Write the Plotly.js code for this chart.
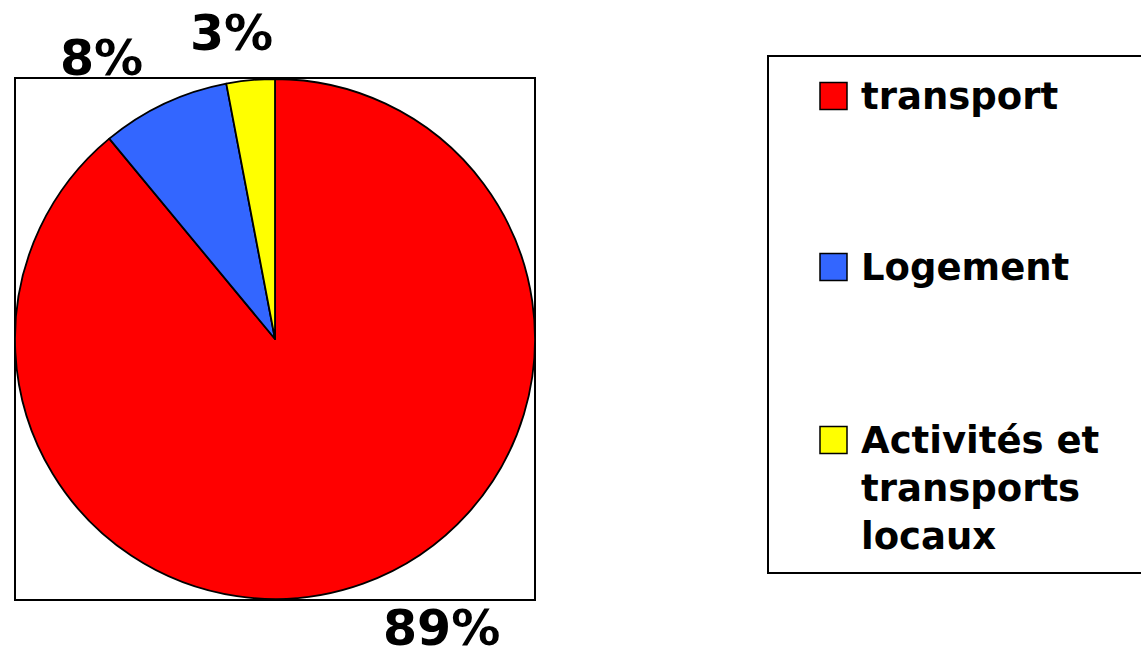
<!DOCTYPE html>
<html>
<head>
<meta charset="utf-8">
<script src="https://cdn.plot.ly/plotly-3.0.1.min.js"></script>
<style>html,body{margin:0;padding:0;background:#fff;}#chart{width:1141px;height:657px;}</style>
</head>
<body>
<div id="chart"></div>
<script>
// Data
var categories = ['transport', 'Logement', 'Activités et<br>transports<br>locaux'];
var values = [89, 8, 3];
var colors = ['#FF0000', '#3366FF', '#FFFF00'];

var W = 1141, H = 657;
function px(x) { return x / W; }
function py(y) { return 1 - y / H; }

var FONT = 'DejaVu Sans, Verdana, sans-serif';

var pie = {
  type: 'pie',
  labels: categories,
  values: values,
  sort: false,
  direction: 'clockwise',
  rotation: 0,
  marker: { colors: colors, line: { color: '#000000', width: 1.8 } },
  textinfo: 'none',
  hoverinfo: 'label+percent',
  showlegend: false,
  domain: { x: [px(15), px(535)], y: [py(599), py(79)] }
};

var shapes = [
  // plot-area frame around the pie
  { type: 'rect', xref: 'paper', yref: 'paper', x0: px(15), x1: px(535), y0: py(600), y1: py(78),
    line: { color: '#000', width: 2 }, fillcolor: 'rgba(0,0,0,0)', layer: 'below' },
  // legend frame
  { type: 'rect', xref: 'paper', yref: 'paper', x0: px(768), x1: px(1160), y0: py(573), y1: py(56),
    line: { color: '#000', width: 2 }, fillcolor: 'rgba(0,0,0,0)' }
];

var annotations = [];
// percentage labels (text from data)
var labelPos = [[441, 628], [102, 58], [231, 33]];
values.forEach(function (v, i) {
  annotations.push({
    xref: 'paper', yref: 'paper', x: px(labelPos[i][0]), y: py(labelPos[i][1]),
    xanchor: 'center', yanchor: 'middle', showarrow: false,
    text: '<b>' + v + '%</b>',
    font: { family: FONT, size: 49, color: '#000' }
  });
});

// manual legend
var legendY = [96, 267, 440];
categories.forEach(function (c, i) {
  var cy = legendY[i];
  shapes.push({ type: 'rect', xref: 'paper', yref: 'paper',
    x0: px(820), x1: px(847), y0: py(cy + 13.5), y1: py(cy - 13.5),
    line: { color: '#000', width: 1.5 }, fillcolor: colors[i] });
  annotations.push({
    xref: 'paper', yref: 'paper', x: px(859), y: py(cy - 23),
    xanchor: 'left', yanchor: 'top', align: 'left', showarrow: false,
    text: '<b>' + c + '</b>',
    font: { family: FONT, size: 37, color: '#000' }
  });
});

var layout = {
  width: W, height: H,
  margin: { l: 0, r: 0, t: 0, b: 0 },
  paper_bgcolor: '#fff',
  showlegend: false,
  shapes: shapes,
  annotations: annotations
};

Plotly.newPlot('chart', [pie], layout, { displayModeBar: false, staticPlot: true });
</script>
</body>
</html>
